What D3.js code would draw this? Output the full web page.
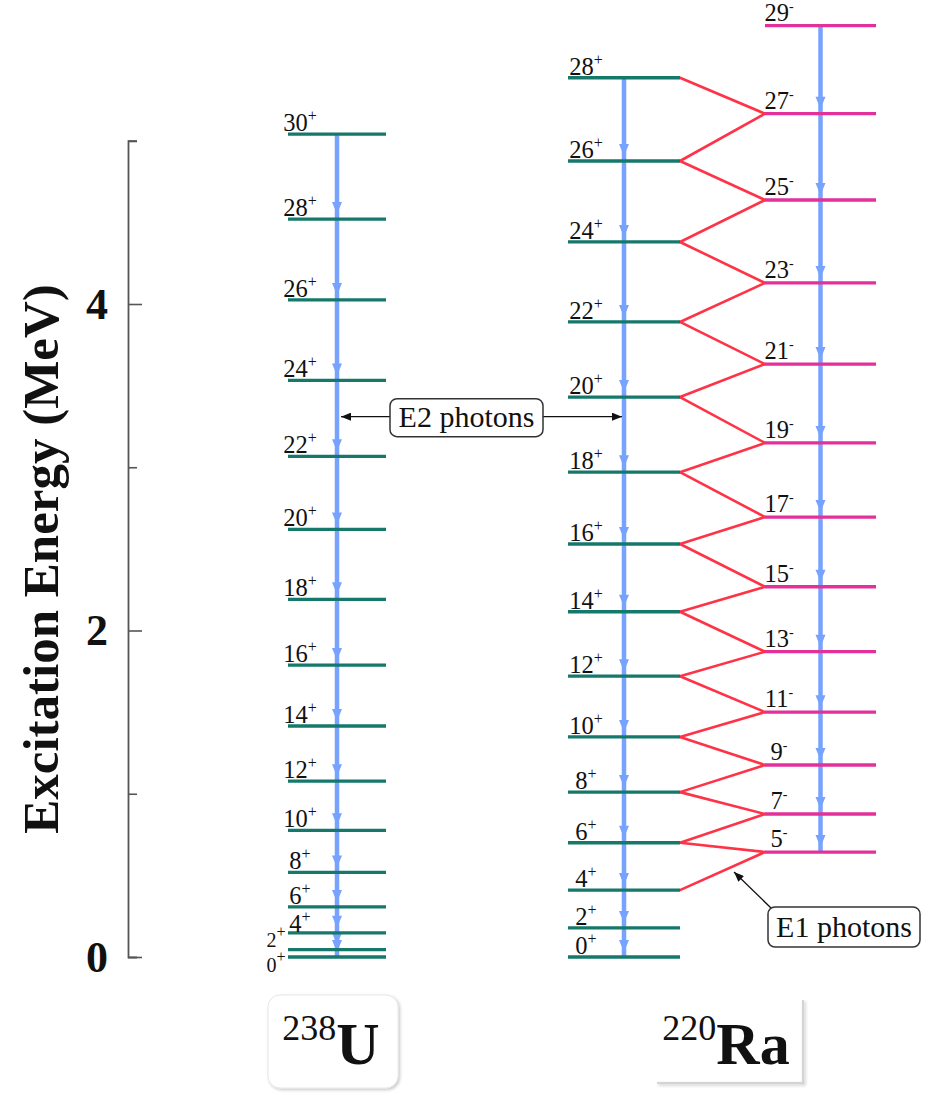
<!DOCTYPE html>
<html><head><meta charset="utf-8">
<script src="https://cdn.jsdelivr.net/npm/d3@7/dist/d3.min.js"></script>
<style>body{margin:0;background:#fff} svg{display:block}</style>
</head><body>
<svg id="chart" width="932" height="1095"></svg>
<script>
// ---------------- data ----------------
const uSpins = [0,2,4,6,8,10,12,14,16,18,20,22,24,26,28,30];
const uEnergies = [0,0.045,0.148,0.307,0.518,0.776,1.077,1.415,1.788,2.191,2.619,3.067,3.532,4.025,4.52,5.04];
const raPosSpins = [0,2,4,6,8,10,12,14,16,18,20,22,24,26,28];
const raPosEnergies = [0,0.178,0.41,0.70,1.01,1.348,1.72,2.115,2.53,2.97,3.43,3.89,4.38,4.876,5.386];
const raNegSpins = [5,7,9,11,13,15,17,19,21,23,25,27,29];
const raNegEnergies = [0.643,0.876,1.176,1.50,1.87,2.268,2.695,3.149,3.632,4.129,4.637,5.166,5.705];
const e1FromSpins = [5,7,9,11,13,15,17,19,21,23,25,27];
const axisTicks = [0,1,2,3,4,5];
const axisTickLabels = ["0","","2","","4",""];
const bandNames = ["U","RaPos","RaNeg"];
const nucleusMass = ["238","220"];
const nucleusSymbol = ["U","Ra"];
const annotationTexts = ["E2 photons","E1 photons"];
const axisTitle = "Excitation Energy (MeV)";

// ---------------- setup ----------------
const FONT = "'Liberation Serif','Times New Roman',serif";
const svg = d3.select("#chart").style("font-family", FONT);
const TEAL = "#15786b", MAGENTA = "#e2319b", RED = "#ff3347", BLUE = "#77a3ff";

const y = d3.scaleLinear().domain([0,5]).range([957,140.75]);
const xCenter = d3.scaleOrdinal().domain(bandNames).range([337,624,820.5]);
const halfW = d3.scaleOrdinal().domain(bandNames).range([49,56,55.5]);
const labelCenter = d3.scaleOrdinal().domain(bandNames).range([300,586,779]);

const bands = [
  {name:"U", spins:uSpins, energies:uEnergies, color:TEAL, sign:"+"},
  {name:"RaPos", spins:raPosSpins, energies:raPosEnergies, color:TEAL, sign:"+"},
  {name:"RaNeg", spins:raNegSpins, energies:raNegEnergies, color:MAGENTA, sign:"-"}
];
bands.forEach(b => b.levels = b.spins.map((s,i)=>({spin:s, E:b.energies[i], band:b.name})));

const defs = svg.append("defs");
defs.append("marker").attr("id","arrowBlack").attr("viewBox","0 0 10 8")
  .attr("refX",10).attr("refY",4).attr("markerWidth",10).attr("markerHeight",8)
  .attr("markerUnits","userSpaceOnUse").attr("orient","auto-start-reverse")
  .append("path").attr("d","M0,0L10,4L0,8Z").attr("fill","#111");
const shadow = defs.append("filter").attr("id","shadow").attr("x","-20%").attr("y","-20%").attr("width","140%").attr("height","140%");
shadow.append("feDropShadow").attr("dx",1.5).attr("dy",1.5).attr("stdDeviation",1.5).attr("flood-color","#000").attr("flood-opacity",0.22);

// ---------------- axis ----------------
const axis = d3.axisLeft(y).tickValues(axisTicks).tickSizeInner(-14).tickSizeOuter(-9)
  .tickPadding(20).tickFormat((d,i)=>axisTickLabels[i]);
const gAxis = svg.append("g").attr("transform","translate(128,0)").call(axis);
gAxis.select(".domain").attr("stroke","#555").attr("stroke-width",1.8);
gAxis.selectAll(".tick line").attr("stroke","#555").attr("stroke-width",1.6)
  .attr("x2", d => (d % 2 === 0 && d !== 5) ? 14 : 9);
gAxis.selectAll(".tick text").attr("font-family",FONT).attr("font-weight","bold")
  .attr("font-size",44).attr("fill","#111");

svg.append("text").attr("transform","translate(58,559) rotate(-90)")
  .attr("text-anchor","middle").attr("font-weight","bold").attr("font-size",51)
  .attr("fill","#111").text(axisTitle);

// ---------------- blue E2 cascades ----------------
bands.forEach(b => {
  const xc = xCenter(b.name);
  const top = d3.max(b.levels, d=>d.E), bot = d3.min(b.levels, d=>d.E);
  svg.append("line").attr("x1",xc).attr("x2",xc).attr("y1",y(top)).attr("y2",y(bot))
    .attr("stroke",BLUE).attr("stroke-width",4.5);
  svg.append("g").selectAll("path").data(b.levels.filter(d=>d.E<top)).join("path")
    .attr("d", d => { const t = y(d.E)-5; return `M${xc-5},${t-12}L${xc+5},${t-12}L${xc},${t}Z`; })
    .attr("fill",BLUE);
});

// ---------------- red E1 transitions ----------------
const posMap = new Map(bands[1].levels.map(d=>[d.spin,d]));
const negMap = new Map(bands[2].levels.map(d=>[d.spin,d]));
const e1 = [];
e1FromSpins.forEach(s0 => {
  const n = negMap.get(s0);
  [s0-1, s0+1].forEach(s => { if (posMap.has(s)) e1.push({from:n, to:posMap.get(s)}); });
});
svg.append("g").selectAll("line").data(e1).join("line")
  .attr("x1", d => xCenter("RaPos")+halfW("RaPos")).attr("y1", d => y(d.to.E))
  .attr("x2", d => xCenter("RaNeg")-halfW("RaNeg")).attr("y2", d => y(d.from.E))
  .attr("stroke",RED).attr("stroke-width",2.6).attr("stroke-linecap","round");

// ---------------- levels ----------------
bands.forEach(b => {
  svg.append("g").selectAll("line").data(b.levels).join("line")
    .attr("x1", d => xCenter(b.name)-halfW(b.name)).attr("x2", d => xCenter(b.name)+halfW(b.name))
    .attr("y1", d => y(d.E)).attr("y2", d => y(d.E))
    .attr("stroke", b.color).attr("stroke-width",3.3);
});

// ---------------- level labels ----------------
bands.forEach(b => {
  const t = svg.append("g").selectAll("text").data(b.levels).join("text")
    .attr("text-anchor","middle").attr("fill","#111")
    .attr("font-size", d => (b.name==="U" && d.spin<=2) ? 20 : 24.5)
    .attr("x", d => {
      if (b.name==="U" && d.spin<=2) return 276;
      return labelCenter(b.name);
    })
    .attr("y", d => {
      if (b.name==="U" && d.spin===0) return y(d.E)+15;
      if (b.name==="U" && d.spin===2) return y(d.E)-3;
      if (b.name==="U" && d.spin===4) return y(d.E)-1;
      if (b.name==="U") return y(d.E)-3;
      if (b.name==="RaNeg") return y(d.E)-5;
      return y(d.E)-3;
    });
  t.append("tspan").text(d => d.spin);
  t.append("tspan").attr("font-size", b.sign==="+" ? 16 : 14).attr("dy",-10).text(b.sign);
});

// ---------------- annotations ----------------
const yE2 = y(3.31);
svg.append("line").attr("x1",xCenter("U")+4).attr("x2",xCenter("RaPos")-2)
  .attr("y1",yE2).attr("y2",yE2).attr("stroke","#111").attr("stroke-width",1.3)
  .attr("marker-start","url(#arrowBlack)").attr("marker-end","url(#arrowBlack)");
svg.append("rect").attr("x",390).attr("y",yE2-18).attr("width",153).attr("height",38).attr("rx",7)
  .attr("fill","#fff").attr("stroke","#333").attr("stroke-width",1.5);
svg.append("text").attr("x",466.5).attr("y",yE2+10).attr("text-anchor","middle")
  .attr("font-size",30).attr("fill","#111").text(annotationTexts[0]);

svg.append("line").attr("x1",771).attr("y1",908).attr("x2",734).attr("y2",872)
  .attr("stroke","#111").attr("stroke-width",1.3).attr("marker-end","url(#arrowBlack)");
svg.append("rect").attr("x",768).attr("y",907).attr("width",152).attr("height",40).attr("rx",7)
  .attr("fill","#fff").attr("stroke","#333").attr("stroke-width",1.5);
svg.append("text").attr("x",844).attr("y",937).attr("text-anchor","middle")
  .attr("font-size",30).attr("fill","#111").text(annotationTexts[1]);

// ---------------- nucleus name boxes ----------------
svg.append("rect").attr("x",268).attr("y",995).attr("width",130).attr("height",93).attr("rx",12)
  .attr("fill","#fff").attr("stroke","#e6e6e6").attr("stroke-width",1).attr("filter","url(#shadow)");
svg.append("path").attr("d","M803,1000V1083H657").attr("fill","none")
  .attr("stroke","#d4d4d4").attr("stroke-width",2).attr("filter","url(#shadow)");

const nucCenters = [331, 726];
nucleusMass.forEach((m,i) => {
  const t = svg.append("text").attr("x",nucCenters[i]).attr("y",1064).attr("text-anchor","middle").attr("fill","#111");
  t.append("tspan").attr("font-size",36).attr("dy",-24).text(m);
  t.append("tspan").attr("font-size",60).attr("font-weight","bold").attr("dy",24).text(nucleusSymbol[i]);
});
</script>
</body></html>
